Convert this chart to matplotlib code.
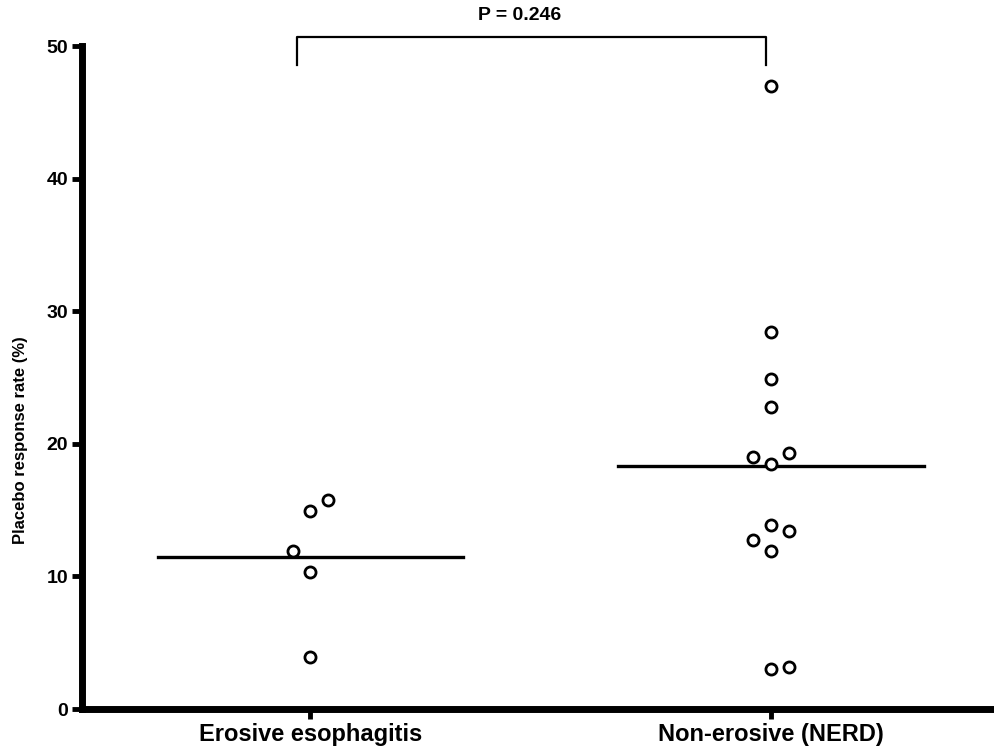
import matplotlib
matplotlib.use('Agg')
import matplotlib.pyplot as plt
import numpy as np

plt.rcParams['font.family'] = ['Liberation Sans', 'DejaVu Sans']
plt.rcParams['font.weight'] = 'bold'

# Data
groups = ['Erosive esophagitis', 'Non-erosive (NERD)']
erosive = [15.8, 14.9, 11.9, 10.3, 3.95]
erosive_slot = [1, 0, -1, 0, 0]
nerd = [47.0, 28.4, 24.9, 22.8, 19.3, 19.0, 18.5, 13.9, 13.4, 12.75, 11.9, 3.0, 3.2]
nerd_slot = [0, 0, 0, 0, 1, -1, 0, 0, 1, -1, 0, 0, 1]
medians = [11.5, 18.35]
p_text = 'P = 0.246'

fig = plt.figure(figsize=(9.95, 7.51), dpi=100)
ax = fig.add_axes([0.0824, 0.0559, 0.9176, 0.8828])

slot_w = 0.038
for i, (vals, slots) in enumerate([(erosive, erosive_slot), (nerd, nerd_slot)]):
    xs = i + slot_w * np.array(slots)
    ax.plot(xs, vals, 'o', ms=8, mfc='white', mec='black', mew=2, zorder=3)
    ax.plot([i - 0.331, i + 0.331], [medians[i], medians[i]], color='black', lw=2.4, zorder=2)

# significance bracket
ax.plot([-0.028, -0.028, 0.99, 0.99], [48.6, 50.7, 50.7, 48.6],
        color='black', lw=1.6, clip_on=False)
ax.text(0.455, 52.3, p_text, ha='center', va='center', fontsize=14, fontweight='bold')

ax.set_xlim(-0.495, 1.486)
ax.set_ylim(0, 50)
ax.set_xticks([0, 1])
ax.set_xticklabels(groups, fontsize=17, fontweight='bold')
ax.set_yticks(range(0, 51, 10))
ax.tick_params(axis='y', labelsize=14, width=3.5, length=7, pad=3)
ax.tick_params(axis='x', width=3.5, length=7, pad=3)
ax.set_ylabel('Placebo response rate (%)', fontsize=12, fontweight='bold')
ax.yaxis.set_label_coords(-0.059, 0.405)

for s in ['top', 'right']:
    ax.spines[s].set_visible(False)
for s in ['left', 'bottom']:
    ax.spines[s].set_linewidth(5)

plt.savefig('out.png', dpi=100)
